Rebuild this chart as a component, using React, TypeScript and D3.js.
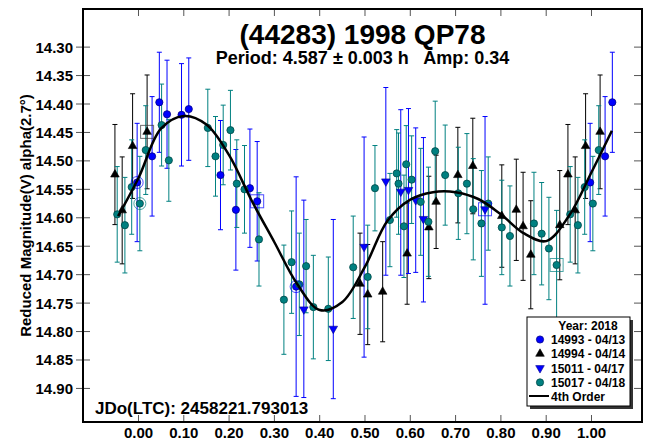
import React from "react";
import * as d3 from "d3";

// ---------- data (phase, reduced magnitude, error up[, error down]) ----------
const s14993: number[][] = [
  [0.997, 14.538, 0.104], [0.03, 14.492, 0.105], [0.046, 14.397, 0.088], [0.063, 14.418, 0.095],
  [0.095, 14.419, 0.09], [0.111, 14.409, 0.09], [0.181, 14.525, 0.096], [0.215, 14.586, 0.106],
  [0.246, 14.548, 0.104], [0.262, 14.571, 0.105], [0.348, 14.721, 0.193],
];
const s14994: number[][] = [
  [0.948, 14.524, 0.088], [0.964, 14.587, 0.094], [0.987, 14.474, 0.092], [0.019, 14.449, 0.1],
  [0.489, 14.716, 0.089], [0.506, 14.735, 0.088], [0.539, 14.73, 0.088], [0.593, 14.663, 0.089],
  [0.641, 14.617, 0.09], [0.657, 14.572, 0.082], [0.705, 14.525, 0.084], [0.738, 14.509, 0.084],
  [0.802, 14.597, 0.09], [0.834, 14.586, 0.089], [0.849, 14.615, 0.095], [0.866, 14.665, 0.095],
  [0.93, 14.613, 0.096],
];
const s15011: number[][] = [
  [0.365, 14.761, 0.192, 0.155], [0.43, 14.795, 0.192, 0.123], [0.498, 14.651, 0.193, 0.194],
  [0.546, 14.536, 0.165, 0.165], [0.579, 14.554, 0.144, 0.147], [0.596, 14.551, 0.143, 0.147],
  [0.612, 14.569, 0.127, 0.127], [0.629, 14.602, 0.143, 0.146], [0.765, 14.585, 0.163, 0.167],
];
const s15017: number[][] = [
  [0.953, 14.594, 0.084], [0.97, 14.613, 0.084], [0.985, 14.546, 0.083], [0.003, 14.575, 0.083],
  [0.016, 14.481, 0.078], [0.051, 14.437, 0.072], [0.067, 14.499, 0.072], [0.153, 14.442, 0.068],
  [0.17, 14.492, 0.07], [0.187, 14.472, 0.07], [0.203, 14.446, 0.07], [0.217, 14.54, 0.077],
  [0.234, 14.55, 0.077], [0.266, 14.638, 0.082], [0.321, 14.744, 0.096], [0.338, 14.678, 0.09],
  [0.355, 14.717, 0.09], [0.37, 14.685, 0.082], [0.386, 14.757, 0.091], [0.419, 14.76, 0.091],
  [0.474, 14.687, 0.09], [0.506, 14.704, 0.091], [0.522, 14.548, 0.075], [0.555, 14.604, 0.082],
  [0.57, 14.522, 0.077], [0.574, 14.54, 0.089], [0.586, 14.615, 0.09], [0.591, 14.506, 0.068],
  [0.603, 14.533, 0.077], [0.623, 14.572, 0.094], [0.64, 14.607, 0.096], [0.655, 14.483, 0.088],
  [0.677, 14.525, 0.088], [0.706, 14.557, 0.081], [0.725, 14.54, 0.088], [0.739, 14.585, 0.089],
  [0.757, 14.61, 0.093], [0.772, 14.575, 0.082], [0.802, 14.617, 0.083], [0.82, 14.632, 0.088],
  [0.873, 14.61, 0.09], [0.89, 14.628, 0.09], [0.906, 14.654, 0.09], [0.923, 14.683, 0.096],
];

// highlighted observations: displayed phase, mag, kind, series index
const highlights: [number, number, string, number][] = [
  [-0.003, 14.538, "ring", 0], [0.003, 14.575, "ring", 3], [0.019, 14.449, "box", 1],
  [0.262, 14.571, "box", 0], [0.348, 14.721, "ring", 0], [0.765, 14.585, "box", 2],
  [0.923, 14.683, "box", 3],
];

// 4th order fit
const fitPhase = [-0.045, 0, 0.05, 0.1, 0.15, 0.2, 0.25, 0.3, 0.35, 0.4, 0.45, 0.5, 0.55, 0.6, 0.65, 0.7, 0.75, 0.8, 0.85, 0.9, 0.95, 1.0, 1.045];
const fitMag = [14.597, 14.53, 14.443, 14.421, 14.436, 14.49, 14.57, 14.643, 14.716, 14.762, 14.748, 14.686, 14.605, 14.568, 14.555, 14.555, 14.567, 14.594, 14.627, 14.641, 14.597, 14.52, 14.447];

const phaseTicks = [0, 0.1, 0.2, 0.3, 0.4, 0.5, 0.6, 0.7, 0.8, 0.9, 1.0];
const magTicks = [14.3, 14.35, 14.4, 14.45, 14.5, 14.55, 14.6, 14.65, 14.7, 14.75, 14.8, 14.85, 14.9];

const seriesNames = ["14993 - 04/13", "14994 - 04/14", "15011 - 04/17", "15017 - 04/18"];
const seriesData = [s14993, s14994, s15011, s15017];

const title = "(44283) 1998 QP78";
const subtitle = "Period: 4.587 \u00b1 0.003 h   Amp: 0.34";
const yLabel = "Reduced Magnitude(V) alpha(2.7\u00b0)";
const jdoText = "JDo(LTC): 2458221.793013";
const legendTitle = "Year: 2018";
const fitName = "4th Order";

// ---------- styling ----------
const FONT = "'Liberation Sans', Arial, Helvetica, sans-serif";
const styles = [
  { shape: "circle", fill: "#0000ff", stroke: "#00008a", bar: "#0000ff" },
  { shape: "up", fill: "#000000", stroke: "#000000", bar: "#000000" },
  { shape: "down", fill: "#0000ff", stroke: "#00008a", bar: "#0000ff" },
  { shape: "circle", fill: "#008080", stroke: "#004848", bar: "#008080" },
];

const L = 83, R = 642, T = 9, B = 422;
const WIN_MIN = -0.055, WIN_MAX = 1.048;

function Marker({ shape, cx, cy, st }: any) {
  if (shape === "circle") {
    return <circle cx={cx} cy={cy} r={3.6} fill={st.fill} stroke={st.stroke} strokeWidth={0.8} />;
  }
  const path = d3.symbol(d3.symbolTriangle, 32)() as string;
  const rot = shape === "down" ? 180 : 0;
  return (
    <path d={path} transform={`translate(${cx},${cy}) rotate(${rot})`} fill={st.fill} stroke={st.stroke} strokeWidth={0.6} />
  );
}

export default function App() {
  const x = d3.scaleLinear().domain([-0.1225, 1.1115]).range([L, R]);
  const y = d3.scaleLinear().domain([14.233, 14.959]).range([T, B]);

  const fitLine = d3
    .line<number>()
    .x((_, i) => x(fitPhase[i]))
    .y((m) => y(m))
    .curve(d3.curveCatmullRom.alpha(0.5))(fitMag) as string;

  const instances = (data: number[][]) => {
    const out: { p: number; m: number; up: number; dn: number }[] = [];
    data.forEach((d) => {
      [d[0] - 1, d[0], d[0] + 1].forEach((p) => {
        if (p >= WIN_MIN && p <= WIN_MAX) out.push({ p, m: d[1], up: d[2], dn: d[3] ?? d[2] });
      });
    });
    return out;
  };

  const cap = 2.5;

  return (
    <svg width={651} height={441} style={{ position: "absolute", left: 0, top: 0, background: "#fff" }} fontFamily={FONT}>
      <rect x={0} y={0} width={651} height={441} fill="#fff" />
      {/* ticks */}
      <g stroke="#555" strokeWidth={1}>
        {phaseTicks.map((t) => (
          <g key={"xt" + t}>
            <line x1={x(t)} x2={x(t)} y1={T} y2={T + 7} />
            <line x1={x(t)} x2={x(t)} y1={B} y2={B - 7} />
          </g>
        ))}
        {magTicks.map((t) => (
          <g key={"yt" + t}>
            <line x1={L - 7} x2={L + 7} y1={y(t)} y2={y(t)} />
            <line x1={R} x2={R - 8} y1={y(t)} y2={y(t)} />
          </g>
        ))}
      </g>
      {/* tick labels */}
      <g fontWeight="bold" fontSize={15} fill="#000">
        {phaseTicks.map((t) => (
          <text key={"xl" + t} x={x(t)} y={438} textAnchor="middle">
            {t.toFixed(2)}
          </text>
        ))}
        {magTicks.map((t) => (
          <text key={"yl" + t} x={73} y={y(t) + 5.5} textAnchor="end">
            {t.toFixed(2)}
          </text>
        ))}
      </g>
      <text
        transform={`translate(31,${(T + B) / 2}) rotate(-90)`}
        textAnchor="middle"
        fontWeight="bold"
        fontSize={15}
      >
        {yLabel}
      </text>

      {/* titles */}
      <text x={(L + R) / 2} y={44} textAnchor="middle" fontWeight="bold" fontSize={28}>
        {title}
      </text>
      <text x={(L + R) / 2} y={64} textAnchor="middle" fontWeight="bold" fontSize={18} style={{ whiteSpace: "pre" }}>
        {subtitle}
      </text>
      <text x={95} y={414} fontWeight="bold" fontSize={17}>
        {jdoText}
      </text>

      {/* error bars */}
      {seriesData.map((data, si) => (
        <g key={"eb" + si} stroke={styles[si].bar} strokeWidth={1} fill="none">
          {instances(data).map((d, i) => {
            const y1 = y(d.m - d.up), y2 = y(d.m + d.dn), cx = x(d.p);
            return (
              <g key={i}>
                <line x1={cx} x2={cx} y1={y1} y2={y2} />
                <line x1={cx - cap} x2={cx + cap} y1={y1} y2={y1} />
                <line x1={cx - cap} x2={cx + cap} y1={y2} y2={y2} />
              </g>
            );
          })}
        </g>
      ))}
      {/* markers */}
      {seriesData.map((data, si) => (
        <g key={"mk" + si}>
          {instances(data).map((d, i) => (
            <Marker key={i} shape={styles[si].shape} cx={x(d.p)} cy={y(d.m)} st={styles[si]} />
          ))}
        </g>
      ))}
      {/* highlights */}
      {highlights.map((h, i) =>
        h[2] === "ring" ? (
          <circle key={"h" + i} cx={x(h[0])} cy={y(h[1])} r={6} fill="none" stroke={styles[h[3]].bar} strokeWidth={1} opacity={0.7} />
        ) : (
          <rect key={"h" + i} x={x(h[0]) - 6.5} y={y(h[1]) - 6.5} width={13} height={13} fill="none" stroke={h[3] === 1 ? "#333" : styles[h[3]].bar} strokeWidth={1} opacity={0.7} />
        )
      )}
      {/* fit */}
      <path d={fitLine} fill="none" stroke="#000" strokeWidth={2.5} />

      {/* frame */}
      <rect x={L} y={T} width={R - L} height={B - T} fill="none" stroke="#000" strokeWidth={2} />

      {/* legend */}
      <g fontWeight="bold" fontSize={12}>
        <rect x={530} y={320} width={103} height={89} fill="#333" />
        <rect x={527} y={317} width={103} height={89} fill="#fff" stroke="#000" strokeWidth={1} />
        <text x={588} y={330} textAnchor="middle">{legendTitle}</text>
        {seriesNames.map((n, i) => (
          <g key={"lg" + i}>
            <Marker shape={styles[i].shape} cx={540} cy={339.5 + i * 14.3} st={styles[i]} />
            <text x={551} y={344 + i * 14.3}>{n}</text>
          </g>
        ))}
        <line x1={529} x2={549} y1={396} y2={396} stroke="#000" strokeWidth={2} />
        <text x={551} y={401}>{fitName}</text>
      </g>
    </svg>
  );
}
